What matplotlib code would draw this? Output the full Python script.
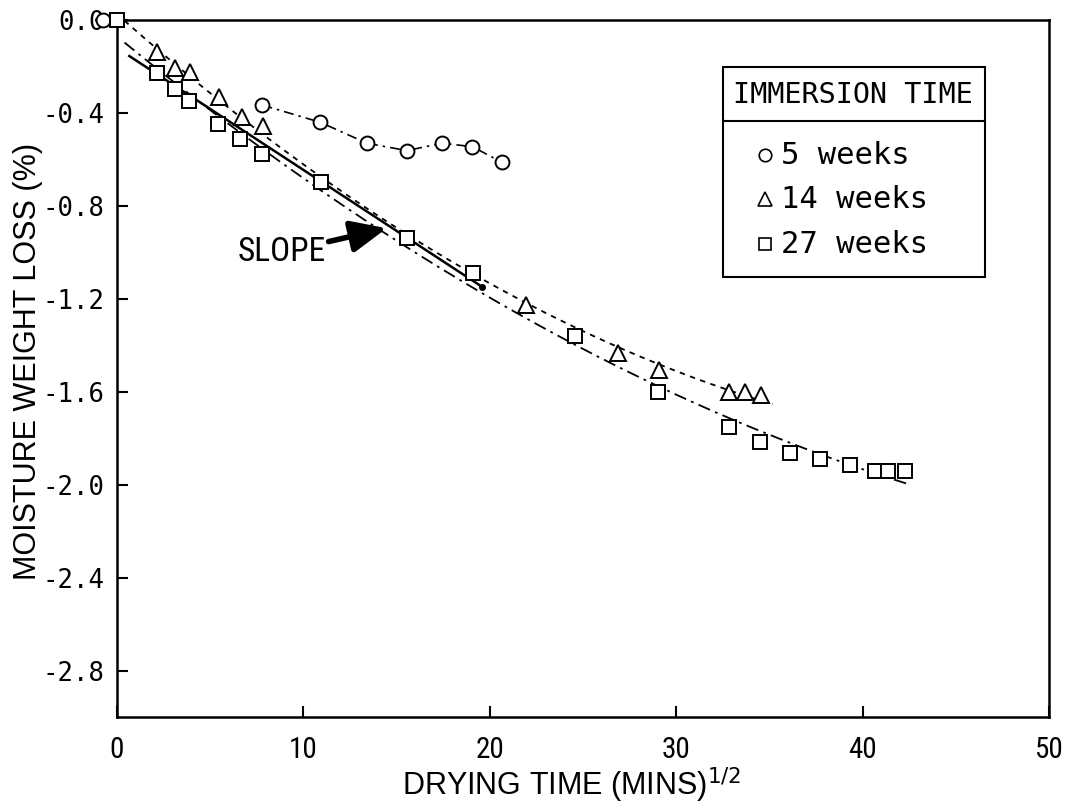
import numpy as np
import matplotlib
matplotlib.use("Agg")
import matplotlib.pyplot as plt
from matplotlib.patches import Rectangle
from matplotlib import font_manager

plt.rcParams["axes.unicode_minus"] = False

# Moisture weight loss (%) against square root of drying time
t5 = [-0.75, 7.8, 10.9, 13.4, 15.55, 17.42, 19.06, 20.64]
w5 = [0.0, -0.366, -0.44, -0.53, -0.562, -0.53, -0.545, -0.612]

t14 = [2.13, 3.11, 3.92, 5.47, 6.69, 7.85, 21.94, 26.9, 29.1, 32.85, 33.69, 34.55]
w14 = [-0.136, -0.208, -0.222, -0.33, -0.416, -0.456, -1.226, -1.434, -1.508,
       -1.599, -1.599, -1.616]

t27 = [0.0, 2.13, 3.1, 3.88, 5.44, 6.6, 7.8, 10.93, 15.57, 19.11, 24.57, 29.04,
       32.85, 34.5, 36.1, 37.7, 39.3, 40.67, 41.38, 42.27]
w27 = [0.0, -0.229, -0.298, -0.347, -0.447, -0.513, -0.578, -0.695, -0.937, -1.09,
       -1.362, -1.599, -1.75, -1.818, -1.864, -1.89, -1.914, -1.943, -1.943, -1.943]

# initial linear portion ("SLOPE")
slope_t = [0.66, 19.56]
slope_w = [-0.155, -1.147]

x_ticks = [0, 10, 20, 30, 40, 50]
y_ticks = [0.0, -0.4, -0.8, -1.2, -1.6, -2.0, -2.4, -2.8]

legend_title = "IMMERSION TIME"
legend_labels = ["5 weeks", "14 weeks", "27 weeks"]

mono = "DejaVu Sans Mono"
names = {f.name for f in font_manager.fontManager.ttflist}
narrow_candidates = ["Liberation Sans Narrow", "Roboto Condensed", "DejaVu Sans"]
narrow = [n for n in narrow_candidates if n in names] or ["DejaVu Sans"]
sans = ["Liberation Sans", "DejaVu Sans"]

fig = plt.figure(figsize=(10.67, 8.09), dpi=100)
ax = fig.add_axes([0.1097, 0.1137, 0.8735, 0.8615])

ax.set_xlim(0, 50)
ax.set_ylim(-3.0, 0.0)

# quadratic trend curves through each series (starting from the origin)
def trend(t, w, t_end):
    tt = np.r_[0.0, t]
    ww = np.r_[0.0, w]
    c = np.polyfit(tt, ww, 2)
    xs = np.linspace(0.4, t_end, 200)
    return xs, np.polyval(c, xs)

xs14, ys14 = trend(t14, w14, 35.16)
ax.plot(xs14, ys14, color="black", lw=1.3, dashes=(3, 3))
xs27, ys27 = trend(t27[1:], w27[1:], 42.5)
ax.plot(xs27, ys27, color="black", lw=1.3, dashes=(7, 3, 1.5, 3))

ax.plot(slope_t, slope_w, color="black", lw=1.8)
ax.plot(slope_t[-1], slope_w[-1], "o", color="black", ms=4)

# data series
ax.plot(t5[1:], w5[1:], color="black", lw=1.2, dashes=(6, 3, 1.5, 3))
ax.plot(t5, w5, ls="none", marker="o", ms=10, mfc="white", mec="black",
        mew=1.4, clip_on=False, zorder=4)
ax.plot(t14, w14, ls="none", marker="^", ms=12, mfc="white", mec="black",
        mew=1.4, clip_on=False, zorder=4)
ax.plot(t27, w27, ls="none", marker="s", ms=10, mfc="white", mec="black",
        mew=1.4, clip_on=False, zorder=5)

ax.annotate("SLOPE", xy=(14.47, -0.896), xytext=(11.2, -1.0),
            ha="right", va="center", fontsize=24, family=narrow,
            arrowprops=dict(arrowstyle="-|>,head_length=0.9,head_width=0.4",
                            color="black", lw=4, shrinkA=0, shrinkB=0))

# legend box
ax.add_patch(Rectangle((0.650, 0.631), 0.281, 0.301, transform=ax.transAxes,
                       fill=False, ec="black", lw=1.5, zorder=6))
ax.plot([0.650, 0.931], [0.855, 0.855], transform=ax.transAxes, color="black",
        lw=1.5, zorder=6)
ax.text(0.790, 0.893, legend_title, transform=ax.transAxes, ha="center",
        va="center", fontsize=20.5, family=mono)
for yy, mk, ms, lab in zip([0.806, 0.743, 0.678], ["o", "^", "s"], [9, 10, 8.5],
                           legend_labels):
    ax.plot(0.695, yy, marker=mk, ms=ms, mfc="white", mec="black", mew=1.2,
            transform=ax.transAxes, zorder=6)
    ax.text(0.712, yy, lab, transform=ax.transAxes, ha="left", va="center",
            fontsize=22, family=mono)

# axes styling
for s in ax.spines.values():
    s.set_linewidth(1.8)
ax.set_xticks(x_ticks)
ax.set_xticklabels([str(v) for v in x_ticks], family=narrow, fontsize=21,
                   stretch="condensed")
ax.set_yticks(y_ticks)
ax.set_yticklabels(["%.1f" % v for v in y_ticks], family=mono, fontsize=18.5)
ax.tick_params(direction="in", length=8, width=1.5, top=False, right=False)
ax.tick_params(axis="x", pad=14)
ax.tick_params(axis="y", pad=9)

ax.set_xlabel("DRYING TIME (MINS)$^{1/2}$", family=sans, fontsize=22)
ax.set_ylabel("MOISTURE WEIGHT LOSS (%)", family=sans, fontsize=22)
ax.xaxis.set_label_coords(0.487, -0.07)
ax.yaxis.set_label_coords(-0.0794, 0.51)

fig.savefig("out.png", dpi=100)
